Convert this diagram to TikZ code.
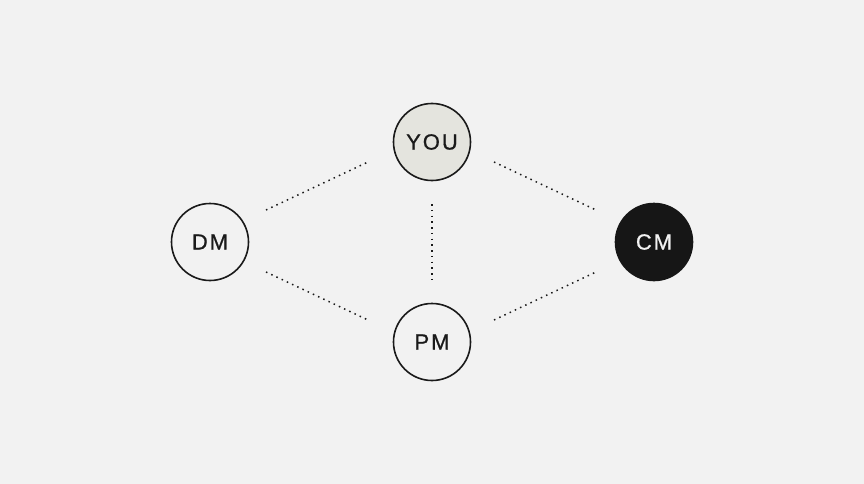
\documentclass[tikz,border=0pt]{standalone}
\usepackage{fontspec}
\setmainfont{Liberation Sans}[LetterSpace=9, FakeBold=0.8]
\definecolor{bg}{HTML}{F2F2F2}
\definecolor{ink}{HTML}{1A1A1A}
\definecolor{youfill}{HTML}{E4E4DE}
\definecolor{cmfill}{HTML}{161616}
\begin{document}
\begin{tikzpicture}[x=1pt,y=-1pt,
  person/.style={circle, draw=ink, line width=1.6pt, minimum size=77pt, inner sep=0pt,
    font=\fontsize{22}{22}\selectfont, text=ink, fill=bg},
  conn/.style={draw=ink, line width=1.5pt, dash pattern=on 1.5pt off 4.25pt}]
\fill[bg] (0,0) rectangle (864,484);
\useasboundingbox (0,0) rectangle (864,484);
\node[person, fill=youfill] (you) at (432,142) {YOU};
\node[person] (dm) at (210,242) {DM};
\node[person, fill=cmfill, draw=cmfill, text=bg] (cm) at (654,242) {CM};
\node[person] (pm) at (432,342) {PM};
\draw[conn] ([shift={(56,-32)}]dm.center) -- ([shift={(-64,20)}]you.center);
\draw[conn] ([shift={(62,20)}]you.center) -- ([shift={(-58,-32)}]cm.center);
\draw[conn] ([shift={(56,30)}]dm.center) -- ([shift={(-64,-22)}]pm.center);
\draw[conn] ([shift={(62,-22)}]pm.center) -- ([shift={(-58,30)}]cm.center);
\draw[conn] ([shift={(0,62)}]you.center) -- ([shift={(0,-62)}]pm.center);
\end{tikzpicture}
\end{document}
